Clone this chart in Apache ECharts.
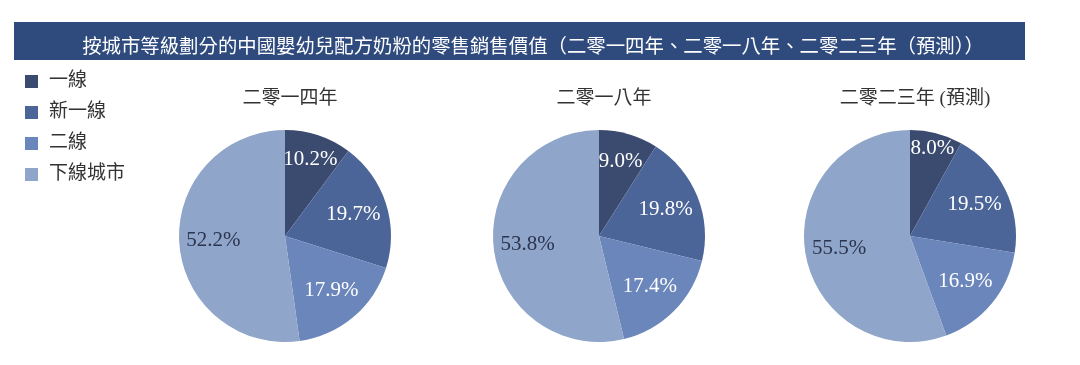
<!DOCTYPE html>
<html><head><meta charset="utf-8">
<script src="https://cdn.jsdelivr.net/npm/echarts@6/dist/echarts.min.js"></script>
<style>html,body{margin:0;padding:0;background:#fff}#c{width:1080px;height:365px}</style>
</head><body><div id="c"></div>
<script>
var categories = ['一線', '新一線', '二線', '下線城市'];
var years = ['二零一四年', '二零一八年', '二零二三年 (預測)'];
var values2014 = [10.2, 19.7, 17.9, 52.2];
var values2018 = [9.0, 19.8, 17.4, 53.8];
var values2023 = [8.0, 19.5, 16.9, 55.5];
var mainTitle = '按城市等級劃分的中國嬰幼兒配方奶粉的零售銷售價值（二零一四年、二零一八年、二零二三年（預測））';

var colors = ['#3b4a6f', '#4b6598', '#6b86ba', '#8fa5c9'];
var labelColors = ['#ffffff', '#ffffff', '#ffffff', '#2b3550'];
var allValues = [values2014, values2018, values2023];
var centersX = [285, 599, 910];
var cy = 236, R = 106;
var firstInner = [0.46, 0.4, 0.64];
var FONT = "'Liberation Serif', 'Noto Sans CJK TC', serif";

var series = [];
var titles = [{
  text: mainTitle, left: 528, top: 31, textAlign: 'center',
  textStyle: {color: '#ffffff', fontSize: 19.4, fontWeight: 'normal', fontFamily: "'Noto Sans CJK TC', sans-serif"}
}];
function labelSeries(i, vals, inner, showFn) {
  return {
    type: 'pie', center: [centersX[i], cy], radius: [R * inner, R], startAngle: 90, clockwise: true,
    silent: true, labelLine: {show: false},
    itemStyle: {color: 'rgba(0,0,0,0)'},
    label: {position: 'inside', fontSize: 21, fontFamily: FONT,
      formatter: function (p) { return p.value.toFixed(1) + '%'; }},
    data: vals.map(function (v, k) {
      return {name: categories[k], value: v,
        label: {show: showFn(k), color: labelColors[k]},
        itemStyle: {color: 'rgba(0,0,0,0)'}};
    })
  };
}
allValues.forEach(function (vals, i) {
  titles.push({
    text: years[i], left: centersX[i], top: 85, textAlign: 'center',
    textStyle: {color: '#333', fontSize: 19, fontWeight: 'normal', fontFamily: FONT}
  });
  series.push({
    type: 'pie', center: [centersX[i], cy], radius: [0, R], startAngle: 90, clockwise: true,
    silent: true, label: {show: false}, labelLine: {show: false},
    itemStyle: {borderWidth: 0},
    data: vals.map(function (v, k) { return {name: categories[k], value: v, itemStyle: {color: colors[k]}}; })
  });
  series.push(labelSeries(i, vals, 0.3, function (k) { return k > 0; }));
  series.push(labelSeries(i, vals, firstInner[i], function (k) { return k === 0; }));
});

var chart = echarts.init(document.getElementById('c'), null, {renderer: 'canvas'});
chart.setOption({
  animation: false,
  color: colors,
  graphic: [{type: 'rect', z: -1, shape: {x: 14, y: 22, width: 1011, height: 38}, style: {fill: '#2f4b7e'}}],
  title: titles,
  legend: {
    orient: 'vertical', left: 20, top: 67, itemWidth: 13, itemHeight: 13, itemGap: 12,
    icon: 'rect', selectedMode: false,
    data: categories,
    textStyle: {color: '#333', fontSize: 19, fontFamily: FONT, padding: [0, 0, 0, 6]}
  },
  series: series
});
</script></body></html>
